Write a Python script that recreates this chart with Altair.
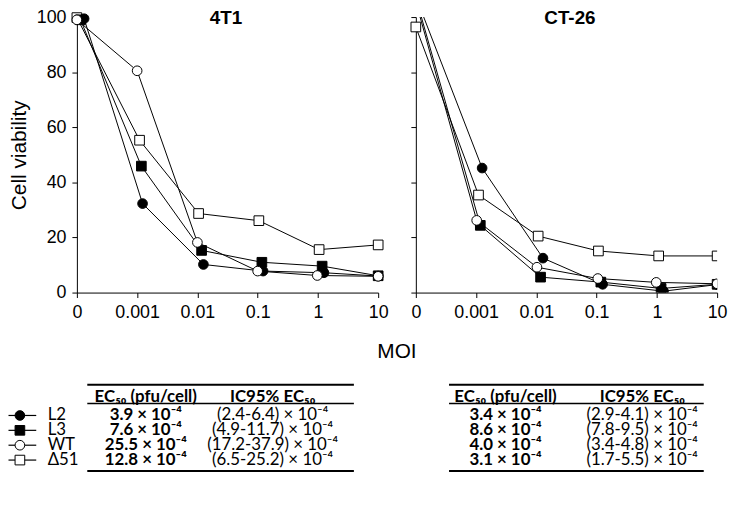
import json
import altair as alt
import pandas as pd

# ---------------- data ----------------
moi_labels = ["0", "0.001", "0.01", "0.1", "1", "10"]
series_order = ["Δ51", "L3", "L2", "WT"]          # drawing order
legend_series = ["L2", "L3", "WT", "Δ51"]

# 4T1 panel (x = MOI position index, small offsets as plotted)
t1_L2_x = [0.12, 1.09, 2.10, 3.09, 4.10, 5.0]
t1_L2_y = [99.4, 32.3, 10.2, 7.8, 7.2, 6.0]
t1_L3_x = [0.06, 1.07, 2.07, 3.07, 4.07, 5.0]
t1_L3_y = [99.0, 45.9, 15.3, 11.0, 9.6, 6.1]
t1_WT_x = [0.0, 1.0, 2.0, 3.0, 3.99, 5.0]
t1_WT_y = [99.0, 80.5, 18.2, 7.8, 6.2, 5.9]
t1_D51_x = [0.0, 1.04, 2.02, 3.02, 4.02, 5.0]
t1_D51_y = [99.8, 55.3, 28.7, 26.1, 15.6, 17.3]

# CT-26 panel
ct_L2_x = [0.06, 1.10, 2.11, 3.10, 4.11, 5.0]
ct_L2_y = [104.0, 45.2, 12.5, 3.0, 0.5, 2.9]
ct_L3_x = [0.04, 1.07, 2.07, 3.07, 4.07, 5.0]
ct_L3_y = [104.0, 24.4, 5.6, 3.8, 1.5, 3.0]
ct_WT_x = [0.02, 1.01, 2.01, 3.02, 3.99, 5.0]
ct_WT_y = [104.0, 26.2, 9.2, 5.1, 3.7, 3.2]
ct_D51_x = [0.0, 1.04, 2.03, 3.03, 4.03, 5.0]
ct_D51_y = [96.4, 35.4, 20.5, 15.1, 13.3, 13.3]

# tables
ec50_4t1 = ["3.9 × 10⁻⁴", "7.6 × 10⁻⁴", "25.5 × 10⁻⁴", "12.8 × 10⁻⁴"]
ic95_4t1 = ["(2.4-6.4) × 10⁻⁴", "(4.9-11.7) × 10⁻⁴", "(17.2-37.9) × 10⁻⁴", "(6.5-25.2) × 10⁻⁴"]
ec50_ct26 = ["3.4 × 10⁻⁴", "8.6 × 10⁻⁴", "4.0 × 10⁻⁴", "3.1 × 10⁻⁴"]
ic95_ct26 = ["(2.9-4.1) × 10⁻⁴", "(7.8-9.5) × 10⁻⁴", "(3.4-4.8) × 10⁻⁴", "(1.7-5.5) × 10⁻⁴"]
header_ec50 = "EC₅₀ (pfu/cell)"
header_ic95 = "IC95% EC₅₀"


def long_df(d):
    rows = []
    for s in series_order:
        xs, ys = d[s]
        for xv, yv in zip(xs, ys):
            rows.append({"series": s, "x": xv, "v": yv})
    return pd.DataFrame(rows)


df_4t1 = long_df({"L2": (t1_L2_x, t1_L2_y), "L3": (t1_L3_x, t1_L3_y),
                  "WT": (t1_WT_x, t1_WT_y), "Δ51": (t1_D51_x, t1_D51_y)})
df_ct = long_df({"L2": (ct_L2_x, ct_L2_y), "L3": (ct_L3_x, ct_L3_y),
                 "WT": (ct_WT_x, ct_WT_y), "Δ51": (ct_D51_x, ct_D51_y)})
tbl = pd.DataFrame({"series": legend_series, "ec50_4t1": ec50_4t1, "ic95_4t1": ic95_4t1,
                    "ec50_ct26": ec50_ct26, "ic95_ct26": ic95_ct26})

# ---------------- layout / style ----------------
PW = 304          # panel width
GAP = 38
R0 = PW + GAP     # right panel origin
H = 278
AX_FONT = "Liberation Sans"
TB_FONT = "Lato"
TB_SIZE = 17

shape_scale = alt.Scale(domain=legend_series, range=["circle", "square", "circle", "square"])
fill_scale = alt.Scale(domain=legend_series, range=["black", "black", "white", "white"])
label_expr = json.dumps(moi_labels) + "[datum.value]"

axis_common = dict(grid=False, domainColor="black", tickColor="black", labelColor="black",
                   tickSize=5, domainWidth=1, tickWidth=1, labelFont=AX_FONT, labelFontSize=18,
                   labelFlush=False, labelOverlap=False, titleFont=AX_FONT, titleFontSize=21,
                   titleFontWeight="normal", titleColor="black")


def panel(df, x_range, x_axis, y_axis, clip):
    x = alt.X("x:Q", scale=alt.Scale(domain=[0, 5], range=x_range, nice=False, zero=False), axis=x_axis)
    y = alt.Y("v:Q", scale=alt.Scale(domain=[0, 100], nice=False), axis=y_axis)
    lines = alt.Chart(df).mark_line(color="black", strokeWidth=1, clip=clip).encode(
        x=x, y=y, detail="series:N")
    pts = alt.Chart(df).mark_point(filled=True, stroke="black", strokeWidth=1, opacity=1,
                                   size=95, clip=clip).encode(
        x=x, y=y,
        shape=alt.Shape("series:N", scale=shape_scale, legend=None),
        fill=alt.Fill("series:N", scale=fill_scale, legend=None))
    return alt.layer(lines, pts)


left = panel(
    df_4t1, [0, PW],
    alt.Axis(orient="bottom", values=list(range(6)), labelExpr=label_expr, labelPadding=6,
             title="MOI", titleX=322.5, titleY=60, titleBaseline="middle", **axis_common),
    alt.Axis(orient="left", values=[0, 20, 40, 60, 80, 100], labelPadding=6,
             title="Cell viability", titleX=-57.5, titleBaseline="middle", **axis_common),
    False)

right = panel(
    df_ct, [R0, R0 + PW],
    alt.Axis(orient="bottom", values=list(range(6)), labelExpr=label_expr, labelPadding=6,
             title="", **axis_common),
    alt.Axis(orient="left", values=[0, 20, 40, 60, 80, 100], labels=False, offset=-R0,
             title="", **axis_common),
    True)

title_l = alt.Chart(pd.DataFrame({"t": ["4T1"]})).mark_text(
    font=AX_FONT, fontSize=19, fontWeight="bold", color="black", baseline="middle").encode(
    text="t:N", x=alt.value(150.5), y=alt.value(1.5))
title_r = alt.Chart(pd.DataFrame({"t": ["CT-26"]})).mark_text(
    font=AX_FONT, fontSize=19, fontWeight="bold", color="black", baseline="middle").encode(
    text="t:N", x=alt.value(497.5), y=alt.value(1.5))

row_y = alt.Y("series:N", scale=alt.Scale(type="point", domain=legend_series, range=[402, 447],
                                          padding=0), axis=None)


def col_text(field, xpos, bold, align="center"):
    return alt.Chart(tbl).mark_text(font=TB_FONT, fontSize=TB_SIZE, color="black", align=align,
                                    baseline="middle",
                                    fontWeight="bold" if bold else "normal").encode(
        text=f"{field}:N", x=alt.value(xpos), y=row_y)


def header(text, xpos):
    return alt.Chart(pd.DataFrame({"t": [text]})).mark_text(
        font=TB_FONT, fontSize=TB_SIZE, fontWeight="bold", color="black", baseline="middle").encode(
        text="t:N", x=alt.value(xpos), y=alt.value(383))


def hrule(x1, x2, yv, w):
    return alt.Chart(pd.DataFrame({"k": [0]})).mark_rule(color="black", strokeWidth=w).encode(
        x=alt.value(x1), x2=alt.value(x2), y=alt.value(yv))


leg_line = alt.Chart(tbl).mark_rule(color="black", strokeWidth=1.2).encode(
    x=alt.value(-69), x2=alt.value(-41), y=row_y)
leg_pts = alt.Chart(tbl).mark_point(filled=True, stroke="black", strokeWidth=1, opacity=1,
                                    size=95).encode(
    x=alt.value(-57.5), y=row_y,
    shape=alt.Shape("series:N", scale=shape_scale, legend=None),
    fill=alt.Fill("series:N", scale=fill_scale, legend=None))
leg_lab = col_text("series", -29.5, False, align="left")

table_layers = [
    hrule(10.5, 279.5, 371, 2), hrule(10.5, 279.5, 390, 1.5), hrule(10.5, 279.5, 458, 2),
    hrule(375.5, 632.5, 371, 2), hrule(375.5, 632.5, 390, 1.5), hrule(375.5, 632.5, 458, 2),
    header(header_ec50, 69.5), header(header_ic95, 197.5),
    header(header_ec50, 432.5), header(header_ic95, 570.5),
    col_text("ec50_4t1", 69.5, True), col_text("ic95_4t1", 197.5, False),
    col_text("ec50_ct26", 432.5, True), col_text("ic95_ct26", 570.5, False),
    leg_line, leg_pts, leg_lab,
]

chart = alt.layer(left, right, title_l, title_r, *table_layers).resolve_scale(
    x="independent", y="independent"
).properties(
    width=R0 + PW, height=H,
    autosize=alt.AutoSizeParams(type="none"),
    padding={"left": 69.5, "top": 7, "right": 14, "bottom": 190},
).configure_view(strokeWidth=0)

chart.save("out.html", embed_options={"renderer": "svg", "actions": False})
